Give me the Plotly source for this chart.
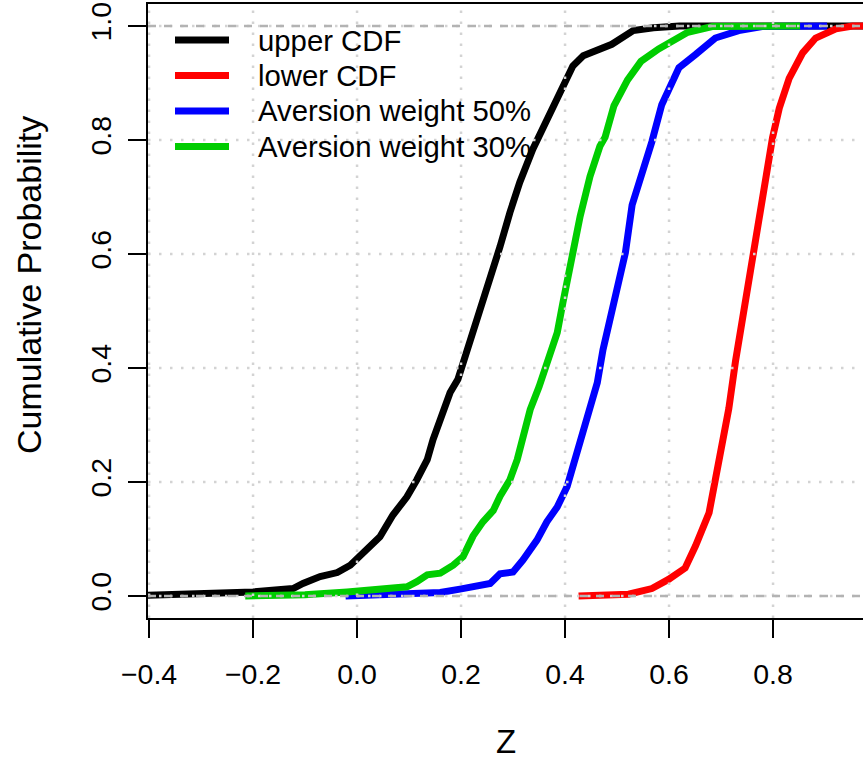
import plotly.graph_objects as go

# Axis ticks and labels
x_ticks = [-0.4, -0.2, 0.0, 0.2, 0.4, 0.6, 0.8]
x_ticklabels = ["\u22120.4", "\u22120.2", "0.0", "0.2", "0.4", "0.6", "0.8"]
y_ticks = [0.0, 0.2, 0.4, 0.6, 0.8, 1.0]
y_ticklabels = ["0.0", "0.2", "0.4", "0.6", "0.8", "1.0"]
ref_levels = [0.0, 1.0]

series_names = ["upper CDF", "lower CDF", "Aversion weight 50%", "Aversion weight 30%"]
series_colors = ["#000000", "#FF0000", "#0000FF", "#00CD00"]

# Empirical CDF curves: Z value and cumulative probability
upper_z = [-0.45, -0.30, -0.20, -0.123, -0.104, -0.071, -0.038, -0.013, 0.019, 0.044,
           0.069, 0.096, 0.115, 0.135, 0.146, 0.165, 0.179, 0.194, 0.204, 0.223,
           0.242, 0.262, 0.275, 0.294, 0.313, 0.338, 0.365, 0.392, 0.415, 0.435,
           0.465, 0.490, 0.531, 0.570, 0.620, 1.10]
upper_p = [0.0, 0.003, 0.007, 0.013, 0.022, 0.034, 0.041, 0.054, 0.084, 0.104,
           0.142, 0.174, 0.204, 0.239, 0.274, 0.327, 0.357, 0.380, 0.409, 0.455,
           0.515, 0.578, 0.613, 0.673, 0.726, 0.784, 0.837, 0.888, 0.930, 0.948,
           0.958, 0.968, 0.992, 0.997, 1.0, 1.0]

lower_z = [0.426, 0.522, 0.567, 0.599, 0.631, 0.651, 0.677, 0.696, 0.715, 0.728,
           0.744, 0.760, 0.773, 0.786, 0.799, 0.812, 0.831, 0.857, 0.882, 0.921,
           0.953, 1.10]
lower_p = [0.0, 0.003, 0.013, 0.029, 0.049, 0.088, 0.146, 0.231, 0.329, 0.413,
           0.504, 0.595, 0.673, 0.738, 0.804, 0.856, 0.908, 0.953, 0.979, 0.995,
           1.0, 1.0]

w50_z = [-0.022, 0.102, 0.160, 0.198, 0.231, 0.256, 0.275, 0.300, 0.319, 0.346,
         0.365, 0.385, 0.404, 0.415, 0.429, 0.448, 0.462, 0.473, 0.486, 0.503,
         0.516, 0.529, 0.548, 0.567, 0.586, 0.619, 0.651, 0.689, 0.734, 0.779,
         0.904]
w50_p = [0.0, 0.005, 0.006, 0.012, 0.016, 0.022, 0.039, 0.042, 0.063, 0.098,
         0.130, 0.156, 0.192, 0.227, 0.269, 0.327, 0.374, 0.432, 0.482, 0.543,
         0.602, 0.686, 0.738, 0.797, 0.862, 0.927, 0.950, 0.979, 0.992, 0.999,
         1.0]

w30_z = [-0.215, -0.100, -0.019, 0.050, 0.096, 0.115, 0.135, 0.160, 0.185, 0.204,
         0.223, 0.242, 0.262, 0.275, 0.294, 0.308, 0.319, 0.333, 0.350, 0.371,
         0.385, 0.396, 0.413, 0.429, 0.448, 0.467, 0.477, 0.494, 0.520, 0.546,
         0.580, 0.636, 0.683, 0.852]
w30_p = [0.0, 0.002, 0.007, 0.011, 0.016, 0.025, 0.037, 0.040, 0.054, 0.069,
         0.105, 0.130, 0.150, 0.175, 0.204, 0.239, 0.274, 0.327, 0.367, 0.430,
         0.462, 0.515, 0.595, 0.666, 0.736, 0.789, 0.805, 0.860, 0.905, 0.938,
         0.960, 0.989, 0.999, 1.0]

series_z = [upper_z, lower_z, w50_z, w30_z]
series_p = [upper_p, lower_p, w50_p, w30_p]

FONT = "Liberation Sans, Arial, Helvetica, sans-serif"
W, H = 863, 760
M_L, M_R, M_T, M_B = 148, 0, 4, 142
PW, PH = W - M_L - M_R, H - M_T - M_B


def px_to_paper_x(px):
    return (px - M_L) / PW


def px_to_paper_y(py):
    return (H - M_B - py) / PH


fig = go.Figure()
for name, color, zs, ps in zip(series_names, series_colors, series_z, series_p):
    fig.add_trace(go.Scatter(
        x=zs, y=ps, mode="lines", name=name, showlegend=False,
        line=dict(color=color, width=7),
    ))

shapes = []
# dotted grid drawn on top of the curves
for xv in x_ticks:
    shapes.append(dict(type="line", xref="x", yref="paper", x0=xv, x1=xv, y0=0, y1=1,
                       line=dict(color="#D3D3D3", width=2.5, dash="2.5px,8.5px"),
                       layer="above"))
for yv in y_ticks:
    shapes.append(dict(type="line", xref="paper", yref="y", x0=0, x1=1, y0=yv, y1=yv,
                       line=dict(color="#D3D3D3", width=2.5, dash="2.5px,8.5px"),
                       layer="above"))
# dashed reference lines at probability 0 and 1
for yv in ref_levels:
    shapes.append(dict(type="line", xref="paper", yref="y", x0=0, x1=1, y0=yv, y1=yv,
                       line=dict(color="#B3B3B3", width=2.5, dash="8px,8px"),
                       layer="above"))

# legend in the top-left corner of the plotting region
annotations = []
legend_rows = [40, 75.5, 111, 146.5]
for name, color, row in zip(series_names, series_colors, legend_rows):
    yy = px_to_paper_y(row)
    shapes.append(dict(type="line", xref="paper", yref="paper",
                       x0=px_to_paper_x(175), x1=px_to_paper_x(229), y0=yy, y1=yy,
                       line=dict(color=color, width=7), layer="above"))
    annotations.append(dict(text=name, xref="paper", yref="paper",
                            x=px_to_paper_x(256), y=yy, xanchor="left", yanchor="middle",
                            showarrow=False,
                            font=dict(family=FONT, size=29.3, color="black")))

annotations += [
    dict(text="Z", xref="paper", yref="paper", x=0.5, y=px_to_paper_y(741),
         xanchor="center", yanchor="middle", height=28, showarrow=False,
         font=dict(family=FONT, size=33, color="black")),
    dict(text="Cumulative Probability", xref="paper", yref="paper",
         x=px_to_paper_x(29), y=px_to_paper_y(285), xanchor="center", yanchor="middle",
         textangle=-90, showarrow=False,
         font=dict(family=FONT, size=34, color="black")),
]

fig.update_layout(
    width=W, height=H,
    margin=dict(l=M_L, r=M_R, t=M_T, b=M_B),
    paper_bgcolor="white", plot_bgcolor="white",
    font=dict(family=FONT, color="black", size=28),
    showlegend=False,
    shapes=shapes,
    annotations=annotations,
    xaxis=dict(
        range=[-0.402, 0.973], tickmode="array", tickvals=x_ticks, ticktext=x_ticklabels,
        ticks="outside", ticklen=18, tickwidth=2, tickcolor="black",
        showline=True, linewidth=2, linecolor="black", mirror=True,
        showgrid=False, zeroline=False,
        tickfont=dict(family=FONT, size=28.5, color="black"),
        ticklabelstandoff=12,
    ),
    yaxis=dict(
        range=[-0.0387, 1.0387], tickmode="array", tickvals=y_ticks, ticktext=y_ticklabels,
        ticks="outside", ticklen=18, tickwidth=2, tickcolor="black", tickangle=-90,
        showline=True, linewidth=2, linecolor="black", mirror=False,
        showgrid=False, zeroline=False,
        tickfont=dict(family=FONT, size=28.5, color="black"),
        ticklabelstandoff=6,
    ),
)

fig.write_html("out.html")
